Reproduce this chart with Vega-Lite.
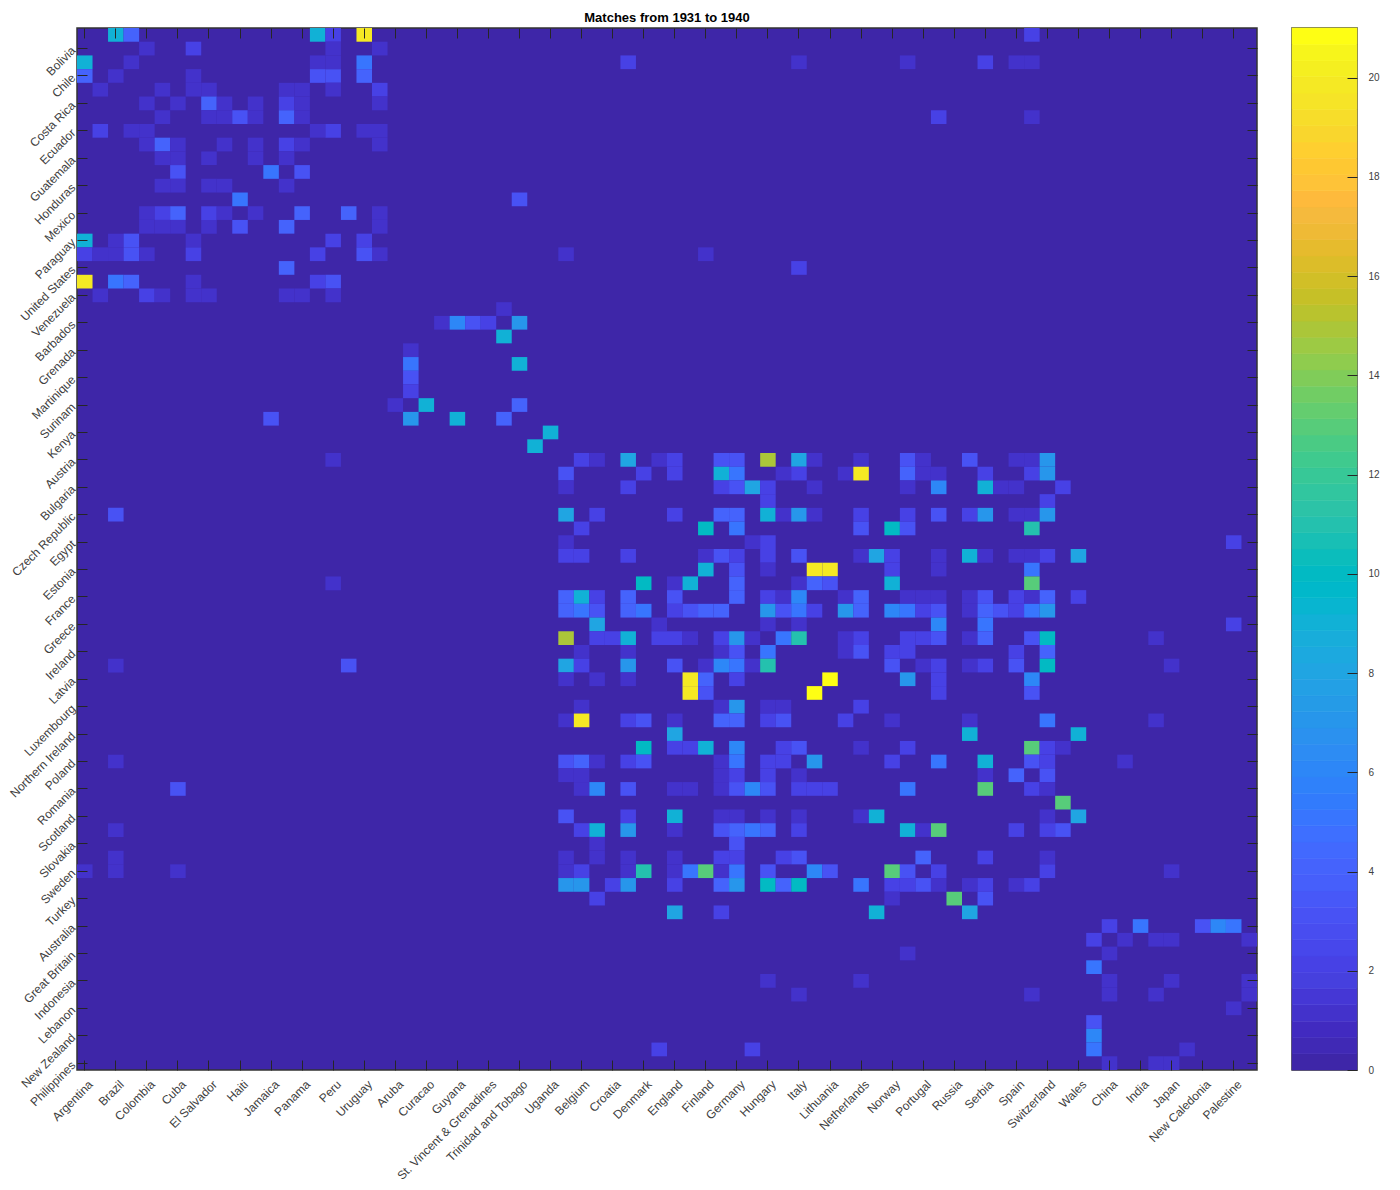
{"$schema":"https://vega.github.io/schema/vega-lite/v6.json","padding":{"left":6,"top":10,"right":5,"bottom":5},"background":"white","config":{"font":"Liberation Sans"},"params":[{"name":"names","value":["Argentina","Bolivia","Brazil","Chile","Colombia","Costa Rica","Cuba","Ecuador","El Salvador","Guatemala","Haiti","Honduras","Jamaica","Mexico","Panama","Paraguay","Peru","United States","Uruguay","Venezuela","Aruba","Barbados","Curacao","Grenada","Guyana","Martinique","St. Vincent & Grenadines","Surinam","Trinidad and Tobago","Kenya","Uganda","Austria","Belgium","Bulgaria","Croatia","Czech Republic","Denmark","Egypt","England","Estonia","Finland","France","Germany","Greece","Hungary","Ireland","Italy","Latvia","Lithuania","Luxembourg","Netherlands","Northern Ireland","Norway","Poland","Portugal","Romania","Russia","Scotland","Serbia","Slovakia","Spain","Sweden","Switzerland","Turkey","Wales","Australia","China","Great Britain","India","Indonesia","Japan","Lebanon","New Caledonia","New Zealand","Palestine","Philippines"]}],"datasets":{"cells":[
{"row":1,"col":3,"n":9},{"row":1,"col":4,"n":4},{"row":1,"col":16,"n":9},{"row":1,"col":17,"n":2},{"row":1,"col":19,"n":20},{"row":1,"col":62,"n":2},
{"row":2,"col":5,"n":1},{"row":2,"col":8,"n":2},{"row":2,"col":17,"n":1},{"row":2,"col":20,"n":1},
{"row":3,"col":1,"n":9},{"row":3,"col":4,"n":1},{"row":3,"col":16,"n":1},{"row":3,"col":17,"n":1},{"row":3,"col":19,"n":5},{"row":3,"col":36,"n":2},{"row":3,"col":47,"n":1},{"row":3,"col":54,"n":1},{"row":3,"col":59,"n":2},{"row":3,"col":61,"n":1},{"row":3,"col":62,"n":1},
{"row":4,"col":1,"n":4},{"row":4,"col":3,"n":1},{"row":4,"col":8,"n":1},{"row":4,"col":16,"n":3},{"row":4,"col":17,"n":3},{"row":4,"col":19,"n":4},
{"row":5,"col":2,"n":1},{"row":5,"col":6,"n":1},{"row":5,"col":8,"n":1},{"row":5,"col":9,"n":1},{"row":5,"col":14,"n":1},{"row":5,"col":15,"n":1},{"row":5,"col":17,"n":1},{"row":5,"col":20,"n":2},
{"row":6,"col":5,"n":1},{"row":6,"col":7,"n":1},{"row":6,"col":9,"n":4},{"row":6,"col":10,"n":1},{"row":6,"col":12,"n":1},{"row":6,"col":14,"n":2},{"row":6,"col":15,"n":1},{"row":6,"col":20,"n":1},
{"row":7,"col":6,"n":1},{"row":7,"col":9,"n":1},{"row":7,"col":10,"n":1},{"row":7,"col":11,"n":3},{"row":7,"col":12,"n":1},{"row":7,"col":14,"n":4},{"row":7,"col":15,"n":1},{"row":7,"col":56,"n":2},{"row":7,"col":62,"n":1},
{"row":8,"col":2,"n":2},{"row":8,"col":4,"n":1},{"row":8,"col":5,"n":1},{"row":8,"col":16,"n":1},{"row":8,"col":17,"n":2},{"row":8,"col":19,"n":1},{"row":8,"col":20,"n":1},
{"row":9,"col":5,"n":1},{"row":9,"col":6,"n":4},{"row":9,"col":7,"n":1},{"row":9,"col":10,"n":1},{"row":9,"col":12,"n":1},{"row":9,"col":14,"n":2},{"row":9,"col":15,"n":1},{"row":9,"col":20,"n":1},
{"row":10,"col":6,"n":1},{"row":10,"col":7,"n":1},{"row":10,"col":9,"n":1},{"row":10,"col":12,"n":1},{"row":10,"col":14,"n":1},
{"row":11,"col":7,"n":3},{"row":11,"col":13,"n":5},{"row":11,"col":15,"n":3},
{"row":12,"col":6,"n":1},{"row":12,"col":7,"n":1},{"row":12,"col":9,"n":1},{"row":12,"col":10,"n":1},{"row":12,"col":14,"n":1},
{"row":13,"col":11,"n":5},{"row":13,"col":29,"n":3},
{"row":14,"col":5,"n":1},{"row":14,"col":6,"n":2},{"row":14,"col":7,"n":4},{"row":14,"col":9,"n":2},{"row":14,"col":10,"n":1},{"row":14,"col":12,"n":1},{"row":14,"col":15,"n":4},{"row":14,"col":18,"n":4},{"row":14,"col":20,"n":1},
{"row":15,"col":5,"n":1},{"row":15,"col":6,"n":1},{"row":15,"col":7,"n":1},{"row":15,"col":9,"n":1},{"row":15,"col":11,"n":3},{"row":15,"col":14,"n":4},{"row":15,"col":20,"n":1},
{"row":16,"col":1,"n":9},{"row":16,"col":3,"n":1},{"row":16,"col":4,"n":3},{"row":16,"col":8,"n":1},{"row":16,"col":17,"n":2},{"row":16,"col":19,"n":2},
{"row":17,"col":1,"n":2},{"row":17,"col":2,"n":1},{"row":17,"col":3,"n":1},{"row":17,"col":4,"n":3},{"row":17,"col":5,"n":1},{"row":17,"col":8,"n":2},{"row":17,"col":16,"n":2},{"row":17,"col":19,"n":3},{"row":17,"col":20,"n":1},{"row":17,"col":32,"n":1},{"row":17,"col":41,"n":1},
{"row":18,"col":14,"n":4},{"row":18,"col":47,"n":2},
{"row":19,"col":1,"n":20},{"row":19,"col":3,"n":5},{"row":19,"col":4,"n":4},{"row":19,"col":8,"n":1},{"row":19,"col":16,"n":2},{"row":19,"col":17,"n":3},
{"row":20,"col":2,"n":1},{"row":20,"col":5,"n":2},{"row":20,"col":6,"n":1},{"row":20,"col":8,"n":1},{"row":20,"col":9,"n":1},{"row":20,"col":14,"n":1},{"row":20,"col":15,"n":1},{"row":20,"col":17,"n":1},
{"row":21,"col":28,"n":1},
{"row":22,"col":24,"n":1},{"row":22,"col":25,"n":6},{"row":22,"col":26,"n":3},{"row":22,"col":27,"n":2},{"row":22,"col":29,"n":7},
{"row":23,"col":28,"n":9},
{"row":24,"col":22,"n":1},
{"row":25,"col":22,"n":5},{"row":25,"col":29,"n":9},
{"row":26,"col":22,"n":3},
{"row":27,"col":22,"n":2},
{"row":28,"col":21,"n":1},{"row":28,"col":23,"n":9},{"row":28,"col":29,"n":4},
{"row":29,"col":13,"n":3},{"row":29,"col":22,"n":7},{"row":29,"col":25,"n":9},{"row":29,"col":28,"n":4},
{"row":30,"col":31,"n":9},
{"row":31,"col":30,"n":9},
{"row":32,"col":17,"n":1},{"row":32,"col":33,"n":2},{"row":32,"col":34,"n":1},{"row":32,"col":36,"n":8},{"row":32,"col":38,"n":1},{"row":32,"col":39,"n":2},{"row":32,"col":42,"n":3},{"row":32,"col":43,"n":3},{"row":32,"col":45,"n":15},{"row":32,"col":47,"n":8},{"row":32,"col":48,"n":1},{"row":32,"col":51,"n":1},{"row":32,"col":54,"n":3},{"row":32,"col":55,"n":1},{"row":32,"col":58,"n":3},{"row":32,"col":61,"n":1},{"row":32,"col":62,"n":1},{"row":32,"col":63,"n":7},
{"row":33,"col":32,"n":3},{"row":33,"col":37,"n":2},{"row":33,"col":39,"n":2},{"row":33,"col":42,"n":9},{"row":33,"col":43,"n":5},{"row":33,"col":46,"n":1},{"row":33,"col":47,"n":2},{"row":33,"col":50,"n":1},{"row":33,"col":51,"n":20},{"row":33,"col":54,"n":4},{"row":33,"col":55,"n":1},{"row":33,"col":56,"n":1},{"row":33,"col":59,"n":2},{"row":33,"col":62,"n":2},{"row":33,"col":63,"n":7},
{"row":34,"col":32,"n":1},{"row":34,"col":36,"n":2},{"row":34,"col":42,"n":2},{"row":34,"col":43,"n":3},{"row":34,"col":44,"n":8},{"row":34,"col":45,"n":2},{"row":34,"col":48,"n":1},{"row":34,"col":54,"n":1},{"row":34,"col":56,"n":6},{"row":34,"col":59,"n":9},{"row":34,"col":60,"n":1},{"row":34,"col":61,"n":1},{"row":34,"col":64,"n":2},
{"row":35,"col":45,"n":2},{"row":35,"col":63,"n":2},
{"row":36,"col":3,"n":3},{"row":36,"col":32,"n":8},{"row":36,"col":34,"n":2},{"row":36,"col":39,"n":2},{"row":36,"col":42,"n":4},{"row":36,"col":43,"n":4},{"row":36,"col":45,"n":9},{"row":36,"col":46,"n":1},{"row":36,"col":47,"n":7},{"row":36,"col":48,"n":1},{"row":36,"col":51,"n":2},{"row":36,"col":54,"n":2},{"row":36,"col":56,"n":3},{"row":36,"col":58,"n":2},{"row":36,"col":59,"n":7},{"row":36,"col":61,"n":1},{"row":36,"col":62,"n":1},{"row":36,"col":63,"n":7},
{"row":37,"col":33,"n":2},{"row":37,"col":41,"n":10},{"row":37,"col":43,"n":5},{"row":37,"col":51,"n":3},{"row":37,"col":53,"n":10},{"row":37,"col":54,"n":3},{"row":37,"col":62,"n":11},
{"row":38,"col":32,"n":1},{"row":38,"col":44,"n":1},{"row":38,"col":45,"n":2},{"row":38,"col":75,"n":2},
{"row":39,"col":32,"n":2},{"row":39,"col":33,"n":2},{"row":39,"col":36,"n":2},{"row":39,"col":41,"n":1},{"row":39,"col":42,"n":3},{"row":39,"col":43,"n":2},{"row":39,"col":45,"n":2},{"row":39,"col":47,"n":3},{"row":39,"col":51,"n":1},{"row":39,"col":52,"n":8},{"row":39,"col":53,"n":2},{"row":39,"col":56,"n":1},{"row":39,"col":58,"n":9},{"row":39,"col":59,"n":1},{"row":39,"col":61,"n":1},{"row":39,"col":62,"n":1},{"row":39,"col":63,"n":2},{"row":39,"col":65,"n":8},
{"row":40,"col":41,"n":9},{"row":40,"col":43,"n":3},{"row":40,"col":45,"n":1},{"row":40,"col":48,"n":20},{"row":40,"col":49,"n":20},{"row":40,"col":53,"n":2},{"row":40,"col":56,"n":1},{"row":40,"col":62,"n":5},
{"row":41,"col":17,"n":1},{"row":41,"col":37,"n":10},{"row":41,"col":39,"n":1},{"row":41,"col":40,"n":9},{"row":41,"col":43,"n":4},{"row":41,"col":47,"n":1},{"row":41,"col":48,"n":4},{"row":41,"col":49,"n":3},{"row":41,"col":53,"n":9},{"row":41,"col":62,"n":13},
{"row":42,"col":32,"n":4},{"row":42,"col":33,"n":9},{"row":42,"col":34,"n":2},{"row":42,"col":36,"n":4},{"row":42,"col":39,"n":3},{"row":42,"col":43,"n":4},{"row":42,"col":45,"n":2},{"row":42,"col":46,"n":1},{"row":42,"col":47,"n":6},{"row":42,"col":50,"n":1},{"row":42,"col":51,"n":4},{"row":42,"col":54,"n":1},{"row":42,"col":55,"n":1},{"row":42,"col":56,"n":1},{"row":42,"col":58,"n":1},{"row":42,"col":59,"n":3},{"row":42,"col":61,"n":2},{"row":42,"col":62,"n":1},{"row":42,"col":63,"n":4},{"row":42,"col":65,"n":2},
{"row":43,"col":32,"n":4},{"row":43,"col":33,"n":5},{"row":43,"col":34,"n":3},{"row":43,"col":36,"n":4},{"row":43,"col":37,"n":5},{"row":43,"col":39,"n":2},{"row":43,"col":40,"n":3},{"row":43,"col":41,"n":4},{"row":43,"col":42,"n":4},{"row":43,"col":45,"n":7},{"row":43,"col":46,"n":3},{"row":43,"col":47,"n":5},{"row":43,"col":48,"n":2},{"row":43,"col":50,"n":7},{"row":43,"col":51,"n":4},{"row":43,"col":53,"n":6},{"row":43,"col":54,"n":5},{"row":43,"col":55,"n":2},{"row":43,"col":56,"n":3},{"row":43,"col":58,"n":1},{"row":43,"col":59,"n":4},{"row":43,"col":60,"n":3},{"row":43,"col":61,"n":2},{"row":43,"col":62,"n":5},{"row":43,"col":63,"n":7},
{"row":44,"col":34,"n":8},{"row":44,"col":38,"n":1},{"row":44,"col":45,"n":1},{"row":44,"col":47,"n":1},{"row":44,"col":56,"n":6},{"row":44,"col":59,"n":5},{"row":44,"col":75,"n":2},
{"row":45,"col":32,"n":15},{"row":45,"col":34,"n":2},{"row":45,"col":35,"n":2},{"row":45,"col":36,"n":9},{"row":45,"col":38,"n":2},{"row":45,"col":39,"n":2},{"row":45,"col":40,"n":1},{"row":45,"col":42,"n":2},{"row":45,"col":43,"n":7},{"row":45,"col":44,"n":1},{"row":45,"col":46,"n":5},{"row":45,"col":47,"n":11},{"row":45,"col":50,"n":1},{"row":45,"col":51,"n":2},{"row":45,"col":54,"n":2},{"row":45,"col":55,"n":2},{"row":45,"col":56,"n":3},{"row":45,"col":58,"n":1},{"row":45,"col":59,"n":4},{"row":45,"col":62,"n":3},{"row":45,"col":63,"n":10},{"row":45,"col":70,"n":1},
{"row":46,"col":33,"n":1},{"row":46,"col":36,"n":1},{"row":46,"col":42,"n":1},{"row":46,"col":43,"n":3},{"row":46,"col":45,"n":5},{"row":46,"col":50,"n":1},{"row":46,"col":51,"n":3},{"row":46,"col":53,"n":2},{"row":46,"col":54,"n":2},{"row":46,"col":61,"n":2},{"row":46,"col":63,"n":4},
{"row":47,"col":3,"n":1},{"row":47,"col":18,"n":3},{"row":47,"col":32,"n":8},{"row":47,"col":33,"n":2},{"row":47,"col":36,"n":7},{"row":47,"col":39,"n":3},{"row":47,"col":41,"n":1},{"row":47,"col":42,"n":6},{"row":47,"col":43,"n":5},{"row":47,"col":44,"n":1},{"row":47,"col":45,"n":11},{"row":47,"col":53,"n":3},{"row":47,"col":55,"n":1},{"row":47,"col":56,"n":2},{"row":47,"col":58,"n":1},{"row":47,"col":59,"n":2},{"row":47,"col":61,"n":3},{"row":47,"col":63,"n":10},{"row":47,"col":71,"n":1},
{"row":48,"col":32,"n":1},{"row":48,"col":34,"n":1},{"row":48,"col":36,"n":1},{"row":48,"col":40,"n":20},{"row":48,"col":41,"n":4},{"row":48,"col":43,"n":2},{"row":48,"col":49,"n":21},{"row":48,"col":54,"n":7},{"row":48,"col":56,"n":2},{"row":48,"col":62,"n":6},
{"row":49,"col":40,"n":20},{"row":49,"col":41,"n":3},{"row":49,"col":48,"n":21},{"row":49,"col":56,"n":2},{"row":49,"col":62,"n":3},
{"row":50,"col":33,"n":1},{"row":50,"col":42,"n":1},{"row":50,"col":43,"n":7},{"row":50,"col":45,"n":1},{"row":50,"col":46,"n":1},{"row":50,"col":51,"n":2},
{"row":51,"col":32,"n":1},{"row":51,"col":33,"n":20},{"row":51,"col":36,"n":2},{"row":51,"col":37,"n":3},{"row":51,"col":39,"n":1},{"row":51,"col":42,"n":4},{"row":51,"col":43,"n":4},{"row":51,"col":45,"n":2},{"row":51,"col":46,"n":3},{"row":51,"col":50,"n":2},{"row":51,"col":53,"n":1},{"row":51,"col":58,"n":1},{"row":51,"col":63,"n":5},{"row":51,"col":70,"n":1},
{"row":52,"col":39,"n":8},{"row":52,"col":58,"n":9},{"row":52,"col":65,"n":9},
{"row":53,"col":37,"n":10},{"row":53,"col":39,"n":2},{"row":53,"col":40,"n":2},{"row":53,"col":41,"n":9},{"row":53,"col":43,"n":6},{"row":53,"col":46,"n":2},{"row":53,"col":47,"n":3},{"row":53,"col":51,"n":1},{"row":53,"col":54,"n":2},{"row":53,"col":62,"n":13},{"row":53,"col":63,"n":2},{"row":53,"col":64,"n":1},
{"row":54,"col":3,"n":1},{"row":54,"col":32,"n":3},{"row":54,"col":33,"n":4},{"row":54,"col":34,"n":1},{"row":54,"col":36,"n":2},{"row":54,"col":37,"n":3},{"row":54,"col":42,"n":1},{"row":54,"col":43,"n":5},{"row":54,"col":45,"n":2},{"row":54,"col":46,"n":2},{"row":54,"col":48,"n":7},{"row":54,"col":53,"n":2},{"row":54,"col":56,"n":5},{"row":54,"col":59,"n":9},{"row":54,"col":62,"n":3},{"row":54,"col":63,"n":2},{"row":54,"col":68,"n":1},
{"row":55,"col":32,"n":1},{"row":55,"col":33,"n":1},{"row":55,"col":42,"n":1},{"row":55,"col":43,"n":2},{"row":55,"col":45,"n":2},{"row":55,"col":47,"n":1},{"row":55,"col":59,"n":1},{"row":55,"col":61,"n":4},{"row":55,"col":63,"n":3},
{"row":56,"col":7,"n":3},{"row":56,"col":33,"n":1},{"row":56,"col":34,"n":6},{"row":56,"col":36,"n":3},{"row":56,"col":39,"n":1},{"row":56,"col":40,"n":1},{"row":56,"col":42,"n":1},{"row":56,"col":43,"n":3},{"row":56,"col":44,"n":6},{"row":56,"col":45,"n":3},{"row":56,"col":47,"n":2},{"row":56,"col":48,"n":2},{"row":56,"col":49,"n":2},{"row":56,"col":54,"n":5},{"row":56,"col":59,"n":13},{"row":56,"col":62,"n":2},{"row":56,"col":63,"n":1},
{"row":57,"col":64,"n":13},
{"row":58,"col":32,"n":3},{"row":58,"col":36,"n":2},{"row":58,"col":39,"n":9},{"row":58,"col":42,"n":1},{"row":58,"col":43,"n":1},{"row":58,"col":45,"n":1},{"row":58,"col":47,"n":1},{"row":58,"col":51,"n":1},{"row":58,"col":52,"n":9},{"row":58,"col":63,"n":1},{"row":58,"col":65,"n":8},
{"row":59,"col":3,"n":1},{"row":59,"col":33,"n":2},{"row":59,"col":34,"n":9},{"row":59,"col":36,"n":7},{"row":59,"col":39,"n":1},{"row":59,"col":42,"n":3},{"row":59,"col":43,"n":4},{"row":59,"col":44,"n":5},{"row":59,"col":45,"n":4},{"row":59,"col":47,"n":2},{"row":59,"col":54,"n":9},{"row":59,"col":55,"n":1},{"row":59,"col":56,"n":13},{"row":59,"col":61,"n":2},{"row":59,"col":63,"n":2},{"row":59,"col":64,"n":3},
{"row":60,"col":34,"n":1},{"row":60,"col":43,"n":3},
{"row":61,"col":3,"n":1},{"row":61,"col":32,"n":1},{"row":61,"col":34,"n":1},{"row":61,"col":36,"n":1},{"row":61,"col":39,"n":1},{"row":61,"col":42,"n":2},{"row":61,"col":43,"n":2},{"row":61,"col":46,"n":2},{"row":61,"col":47,"n":3},{"row":61,"col":55,"n":4},{"row":61,"col":59,"n":2},{"row":61,"col":63,"n":1},
{"row":62,"col":1,"n":1},{"row":62,"col":3,"n":1},{"row":62,"col":7,"n":1},{"row":62,"col":32,"n":1},{"row":62,"col":33,"n":2},{"row":62,"col":36,"n":1},{"row":62,"col":37,"n":11},{"row":62,"col":39,"n":1},{"row":62,"col":40,"n":5},{"row":62,"col":41,"n":13},{"row":62,"col":42,"n":1},{"row":62,"col":43,"n":5},{"row":62,"col":45,"n":3},{"row":62,"col":48,"n":6},{"row":62,"col":49,"n":3},{"row":62,"col":53,"n":13},{"row":62,"col":54,"n":3},{"row":62,"col":56,"n":2},{"row":62,"col":63,"n":2},{"row":62,"col":71,"n":1},
{"row":63,"col":32,"n":7},{"row":63,"col":33,"n":7},{"row":63,"col":35,"n":2},{"row":63,"col":36,"n":7},{"row":63,"col":39,"n":2},{"row":63,"col":42,"n":4},{"row":63,"col":43,"n":7},{"row":63,"col":45,"n":10},{"row":63,"col":46,"n":4},{"row":63,"col":47,"n":10},{"row":63,"col":51,"n":5},{"row":63,"col":53,"n":2},{"row":63,"col":54,"n":2},{"row":63,"col":55,"n":3},{"row":63,"col":56,"n":1},{"row":63,"col":58,"n":1},{"row":63,"col":59,"n":2},{"row":63,"col":61,"n":1},{"row":63,"col":62,"n":2},
{"row":64,"col":34,"n":2},{"row":64,"col":53,"n":1},{"row":64,"col":57,"n":13},{"row":64,"col":59,"n":3},
{"row":65,"col":39,"n":8},{"row":65,"col":42,"n":2},{"row":65,"col":52,"n":9},{"row":65,"col":58,"n":8},
{"row":66,"col":67,"n":2},{"row":66,"col":69,"n":5},{"row":66,"col":73,"n":3},{"row":66,"col":74,"n":6},{"row":66,"col":75,"n":5},
{"row":67,"col":66,"n":2},{"row":67,"col":68,"n":1},{"row":67,"col":70,"n":1},{"row":67,"col":71,"n":1},{"row":67,"col":76,"n":1},
{"row":68,"col":54,"n":1},{"row":68,"col":67,"n":1},
{"row":69,"col":66,"n":5},
{"row":70,"col":45,"n":1},{"row":70,"col":51,"n":1},{"row":70,"col":67,"n":1},{"row":70,"col":71,"n":1},{"row":70,"col":76,"n":1},
{"row":71,"col":47,"n":1},{"row":71,"col":62,"n":1},{"row":71,"col":67,"n":1},{"row":71,"col":70,"n":1},{"row":71,"col":76,"n":1},
{"row":72,"col":75,"n":1},
{"row":73,"col":66,"n":3},
{"row":74,"col":66,"n":6},
{"row":75,"col":38,"n":2},{"row":75,"col":44,"n":2},{"row":75,"col":66,"n":5},{"row":75,"col":72,"n":1},
{"row":76,"col":67,"n":1},{"row":76,"col":70,"n":1},{"row":76,"col":71,"n":1}
],"bands":[{"lo":0.001,"hi":0.329},{"lo":0.329,"hi":0.657},{"lo":0.657,"hi":0.985},{"lo":0.985,"hi":1.313},{"lo":1.313,"hi":1.641},{"lo":1.641,"hi":1.969},{"lo":1.969,"hi":2.297},{"lo":2.297,"hi":2.626},{"lo":2.626,"hi":2.954},{"lo":2.954,"hi":3.282},{"lo":3.282,"hi":3.61},{"lo":3.61,"hi":3.938},{"lo":3.938,"hi":4.266},{"lo":4.266,"hi":4.594},{"lo":4.594,"hi":4.922},{"lo":4.922,"hi":5.251},{"lo":5.251,"hi":5.579},{"lo":5.579,"hi":5.907},{"lo":5.907,"hi":6.235},{"lo":6.235,"hi":6.563},{"lo":6.563,"hi":6.891},{"lo":6.891,"hi":7.219},{"lo":7.219,"hi":7.547},{"lo":7.547,"hi":7.876},{"lo":7.876,"hi":8.204},{"lo":8.204,"hi":8.532},{"lo":8.532,"hi":8.86},{"lo":8.86,"hi":9.188},{"lo":9.188,"hi":9.516},{"lo":9.516,"hi":9.844},{"lo":9.844,"hi":10.172},{"lo":10.172,"hi":10.501},{"lo":10.501,"hi":10.829},{"lo":10.829,"hi":11.157},{"lo":11.157,"hi":11.485},{"lo":11.485,"hi":11.813},{"lo":11.813,"hi":12.141},{"lo":12.141,"hi":12.469},{"lo":12.469,"hi":12.797},{"lo":12.797,"hi":13.126},{"lo":13.126,"hi":13.454},{"lo":13.454,"hi":13.782},{"lo":13.782,"hi":14.11},{"lo":14.11,"hi":14.438},{"lo":14.438,"hi":14.766},{"lo":14.766,"hi":15.094},{"lo":15.094,"hi":15.422},{"lo":15.422,"hi":15.751},{"lo":15.751,"hi":16.079},{"lo":16.079,"hi":16.407},{"lo":16.407,"hi":16.735},{"lo":16.735,"hi":17.063},{"lo":17.063,"hi":17.391},{"lo":17.391,"hi":17.719},{"lo":17.719,"hi":18.047},{"lo":18.047,"hi":18.376},{"lo":18.376,"hi":18.704},{"lo":18.704,"hi":19.032},{"lo":19.032,"hi":19.36},{"lo":19.36,"hi":19.688},{"lo":19.688,"hi":20.016},{"lo":20.016,"hi":20.344},{"lo":20.344,"hi":20.672},{"lo":20.672,"hi":21}]},
"hconcat":[
{"title":{"text":"Matches from 1931 to 1940","fontSize":13,"fontWeight":"bold","color":"#000000","font":"Liberation Sans","offset":3},"width":1180,"height":1042,"view":{"fill":"#3e26a8","stroke":"#333333","strokeWidth":1.5},
"layer":[
{"data":{"name":"cells"},"mark":{"type":"rect","tooltip":false},"encoding":{
"x":{"field":"col","type":"ordinal","scale":{"domain":[1,2,3,4,5,6,7,8,9,10,11,12,13,14,15,16,17,18,19,20,21,22,23,24,25,26,27,28,29,30,31,32,33,34,35,36,37,38,39,40,41,42,43,44,45,46,47,48,49,50,51,52,53,54,55,56,57,58,59,60,61,62,63,64,65,66,67,68,69,70,71,72,73,74,75,76],"paddingInner":0,"paddingOuter":0},"axis":{"title":null,"orient":"bottom","values":[1,3,5,7,9,11,13,15,17,19,21,23,25,27,29,31,33,35,37,39,41,43,45,47,49,51,53,55,57,59,61,63,65,67,69,71,73,75],"labelExpr":"names[datum.value-1]","labelAngle":-45,"labelAlign":"right","labelBaseline":"middle","labelFontSize":12,"labelColor":"#404040","labelPadding":22,"labelOffset":6,"labelOverlap":false,"labelLimit":300,"tickSize":-10,"tickColor":"#262626","tickWidth":1,"domain":false,"grid":false,"zindex":1}},
"y":{"field":"row","type":"ordinal","scale":{"domain":[1,2,3,4,5,6,7,8,9,10,11,12,13,14,15,16,17,18,19,20,21,22,23,24,25,26,27,28,29,30,31,32,33,34,35,36,37,38,39,40,41,42,43,44,45,46,47,48,49,50,51,52,53,54,55,56,57,58,59,60,61,62,63,64,65,66,67,68,69,70,71,72,73,74,75,76],"paddingInner":0,"paddingOuter":0},"axis":{"title":null,"orient":"left","values":[2,4,6,8,10,12,14,16,18,20,22,24,26,28,30,32,34,36,38,40,42,44,46,48,50,52,54,56,58,60,62,64,66,68,70,72,74,76],"labelExpr":"names[datum.value-1]","labelAngle":-45,"labelAlign":"right","labelBaseline":"middle","labelFontSize":12,"labelColor":"#404040","labelPadding":14,"labelOffset":0,"labelOverlap":false,"labelLimit":300,"tickSize":-10,"tickColor":"#262626","tickWidth":1,"domain":false,"grid":false,"zindex":1}},
"color":{"field":"n","type":"quantitative","legend":null,"scale":{"type":"quantize","domain":[0,21],"range":["#3e26a8","#4029b5","#412ac0","#4332cb","#4537d5","#4640de","#4741e5","#4747eb","#484df0","#4852f4","#4758f8","#465ffb","#4563fc","#4269fe","#3e6fff","#3875fe","#327bfc","#2f81fa","#2d87f7","#2d8cf3","#2b91ef","#2796eb","#259be7","#23a0e5","#20a5e2","#1ca9df","#18adda","#11b1d6","#08b5d0","#01b8ca","#02bac3","#0bbdbc","#18bfb5","#24c1ae","#2cc3a7","#31c69f","#37c897","#3fca8e","#4acb84","#57cc7a","#64cd6f","#71cd64","#80cc59","#8fcc4e","#9dca44","#abc639","#b9c32e","#c6c027","#d1bf27","#dcbd29","#e6bb2d","#efba36","#f5ba3d","#feba3c","#fec338","#fec832","#fecf30","#f9d62d","#f7dd2a","#f6e427","#f5e924","#f5ef20","#f7f51b","#fefe14"]}}
}},
{"data":{"values":[{"col":1,"row":2}]},"mark":{"type":"rect","opacity":0,"tooltip":false},"encoding":{
"x":{"field":"col","type":"ordinal","axis":{"title":null,"orient":"top","values":[1,3,5,7,9,11,13,15,17,19,21,23,25,27,29,31,33,35,37,39,41,43,45,47,49,51,53,55,57,59,61,63,65,67,69,71,73,75],"labels":false,"tickSize":-10,"tickColor":"#262626","tickWidth":1,"domain":false,"grid":false,"zindex":1}},
"y":{"field":"row","type":"ordinal","axis":{"title":null,"orient":"right","values":[2,4,6,8,10,12,14,16,18,20,22,24,26,28,30,32,34,36,38,40,42,44,46,48,50,52,54,56,58,60,62,64,66,68,70,72,74,76],"labels":false,"tickSize":-10,"tickColor":"#262626","tickWidth":1,"domain":false,"grid":false,"zindex":1}}
}}
],"resolve":{"axis":{"x":"independent","y":"independent"}}},
{"width":65,"height":1042,"view":{"stroke":"#333333","strokeWidth":1.5},"data":{"name":"bands"},"mark":{"type":"rect","tooltip":false,"strokeWidth":0.6},"encoding":{
"y":{"field":"lo","type":"quantitative","scale":{"domain":[0,21],"nice":false,"zero":false},"axis":{"title":null,"orient":"right","values":[0,2,4,6,8,10,12,14,16,18,20],"format":"d","labelFontSize":10,"labelColor":"#404040","labelPadding":21,"tickSize":-10,"tickColor":"#262626","tickWidth":1,"domain":false,"grid":false,"zindex":1}},
"y2":{"field":"hi"},
"color":{"field":"lo","type":"quantitative","legend":null,"scale":{"type":"quantize","domain":[0,21],"range":["#3e26a8","#4029b5","#412ac0","#4332cb","#4537d5","#4640de","#4741e5","#4747eb","#484df0","#4852f4","#4758f8","#465ffb","#4563fc","#4269fe","#3e6fff","#3875fe","#327bfc","#2f81fa","#2d87f7","#2d8cf3","#2b91ef","#2796eb","#259be7","#23a0e5","#20a5e2","#1ca9df","#18adda","#11b1d6","#08b5d0","#01b8ca","#02bac3","#0bbdbc","#18bfb5","#24c1ae","#2cc3a7","#31c69f","#37c897","#3fca8e","#4acb84","#57cc7a","#64cd6f","#71cd64","#80cc59","#8fcc4e","#9dca44","#abc639","#b9c32e","#c6c027","#d1bf27","#dcbd29","#e6bb2d","#efba36","#f5ba3d","#feba3c","#fec338","#fec832","#fecf30","#f9d62d","#f7dd2a","#f6e427","#f5e924","#f5ef20","#f7f51b","#fefe14"]}},
"stroke":{"field":"lo","type":"quantitative","legend":null,"scale":{"type":"quantize","domain":[0,21],"range":["#3e26a8","#4029b5","#412ac0","#4332cb","#4537d5","#4640de","#4741e5","#4747eb","#484df0","#4852f4","#4758f8","#465ffb","#4563fc","#4269fe","#3e6fff","#3875fe","#327bfc","#2f81fa","#2d87f7","#2d8cf3","#2b91ef","#2796eb","#259be7","#23a0e5","#20a5e2","#1ca9df","#18adda","#11b1d6","#08b5d0","#01b8ca","#02bac3","#0bbdbc","#18bfb5","#24c1ae","#2cc3a7","#31c69f","#37c897","#3fca8e","#4acb84","#57cc7a","#64cd6f","#71cd64","#80cc59","#8fcc4e","#9dca44","#abc639","#b9c32e","#c6c027","#d1bf27","#dcbd29","#e6bb2d","#efba36","#f5ba3d","#feba3c","#fec338","#fec832","#fecf30","#f9d62d","#f7dd2a","#f6e427","#f5e924","#f5ef20","#f7f51b","#fefe14"]}}
}}
],"spacing":31,"resolve":{"scale":{"color":"independent","x":"independent","y":"independent"}}}
